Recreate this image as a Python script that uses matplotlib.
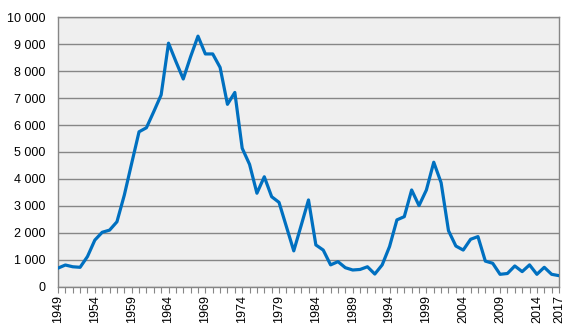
import matplotlib

matplotlib.use("Agg")
import matplotlib.pyplot as plt
from matplotlib.ticker import FuncFormatter, MultipleLocator

years = list(range(1949, 2018))
values = [
    690, 805, 740, 720, 1120, 1730, 2020, 2100, 2410, 3400,  # 1949-1958
    4580, 5750, 5900, 6500, 7120, 9040, 8360, 7710, 8540, 9300,  # 1959-1968
    8640, 8640, 8140, 6770, 7210, 5140, 4540, 3470, 4080, 3340,  # 1969-1978
    3130, 2230, 1330, 2270, 3220, 1550, 1360, 810, 930, 705,  # 1979-1988
    620, 640, 740, 470, 810, 1490, 2480, 2600, 3590, 3010,  # 1989-1998
    3590, 4620, 3860, 2080, 1510, 1360, 1760, 1860, 950, 870,  # 1999-2008
    460, 490, 770, 560, 810, 460, 720, 460, 410,  # 2009-2017
]
label_years = list(range(1949, 2015, 5)) + [2017]

GRID = "#868686"

fig = plt.figure(figsize=(5.67, 3.28), dpi=100)
ax = fig.add_axes([58 / 567, 1 - 286.7 / 328, 501 / 567, 269.4 / 328])
ax.set_facecolor("#EFEFEF")

ax.plot(years, values, color="#0070C0", linewidth=2.3, solid_joinstyle="round", zorder=3)

ax.set_xlim(1949, 2017)
ax.set_ylim(0, 10000)
ax.yaxis.set_major_locator(MultipleLocator(1000))
ax.yaxis.set_major_formatter(FuncFormatter(lambda v, _: f"{int(v):,}".replace(",", " ")))
ax.grid(axis="y", color=GRID, linewidth=1.0, zorder=1)

ax.set_xticks(label_years)
ax.set_xticklabels([str(y) for y in label_years], rotation=90)
ax.set_xticks(years, minor=True)

for lbl in ax.get_xticklabels() + ax.get_yticklabels():
    lbl.set_fontfamily("Liberation Sans")
    lbl.set_fontsize(9)

ax.tick_params(axis="y", length=0, pad=9, colors="black")
ax.tick_params(axis="x", which="both", length=4, width=0.8, color=GRID, direction="out", pad=2)

for side in ("left", "right", "top", "bottom"):
    ax.spines[side].set_color(GRID)
    ax.spines[side].set_linewidth(1.0)

fig.savefig("out.png", dpi=100, facecolor="white")
